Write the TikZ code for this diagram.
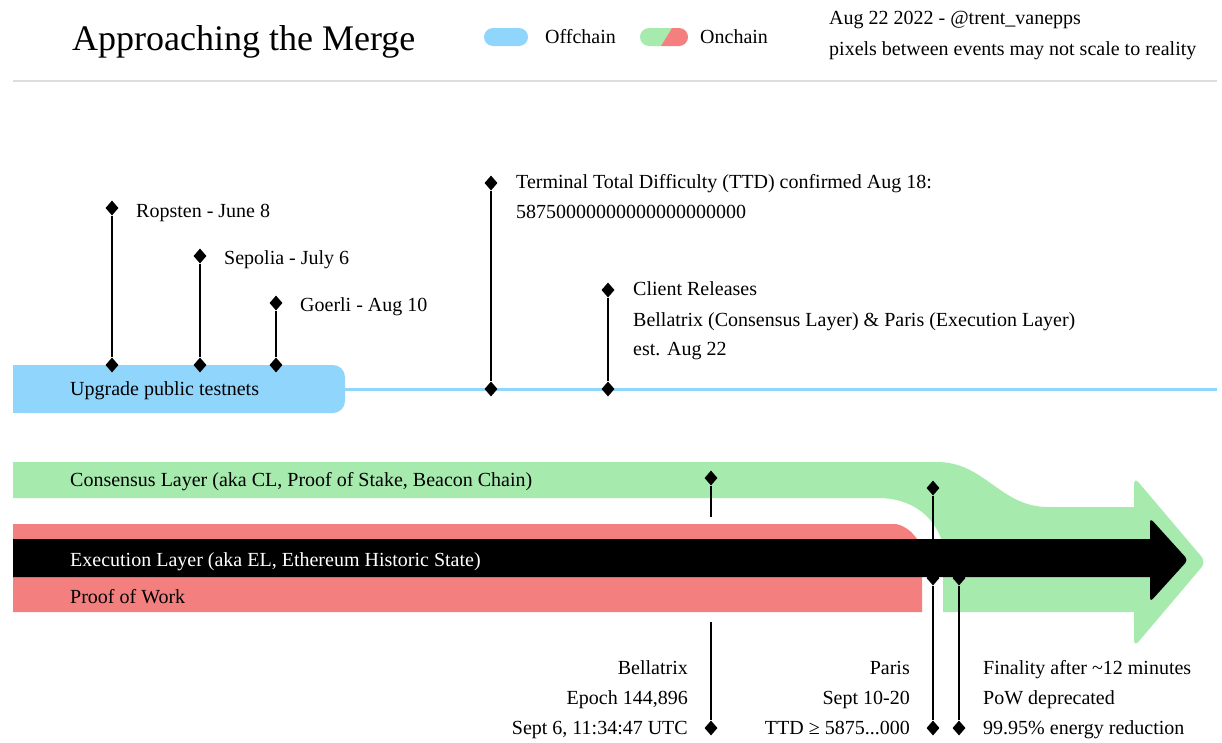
\documentclass[tikz,border=0pt]{standalone}
\usepackage{fontspec}
\setmainfont{Liberation Serif}
\usetikzlibrary{shapes.geometric}
\definecolor{offc}{HTML}{90D5FC}
\definecolor{onc}{HTML}{A6EAAE}
\definecolor{powc}{HTML}{F47F7F}
\definecolor{rulec}{HTML}{DDDDDD}
\begin{document}
\begin{tikzpicture}[x=1pt,y=-1pt,
  mk/.style={diamond, fill=black, inner sep=0pt, minimum width=13pt, minimum height=15pt},
  lbl/.style={inner sep=0pt, font=\fontsize{20}{30}\selectfont, anchor=base west},
  lblr/.style={lbl, anchor=base east},
  stem/.style={line width=2.8pt, black},
]
\useasboundingbox[fill=white] (0,0) rectangle (1222,742);

% header
\node[lbl, font=\fontsize{36}{40}\selectfont] (title) at (72,50) {Approaching the Merge};
\fill[offc, rounded corners=9pt] (484,28) rectangle (528,46);
\node[lbl] (offl) at (545,43) {Offchain};
\begin{scope}
\clip[rounded corners=9pt] (640,28) rectangle (688,46);
\fill[onc] (640,28) -- (672,28) -- (661,46) -- (640,46) -- cycle;
\fill[powc] (672,28) -- (688,28) -- (688,46) -- (661,46) -- cycle;
\end{scope}
\node[lbl] (onl) at (700,43) {Onchain};
\node[lbl] (auth) at (829,24) {Aug 22 2022 - @trent\_vanepps};
\node[lbl] (note) at (829,55) {pixels between events may not scale to reality};
\draw[rulec, line width=2pt] (13,81) -- (1217,81);

% offchain track
\fill[offc, rounded corners=12pt] (13,365) rectangle (345,413);
\fill[offc] (13,365) rectangle (40,413);
\draw[offc, line width=3pt] (344,389) -- (1217,389);
\node[lbl] (upg) at (70,395) {Upgrade public testnets};

% consensus layer (green) merging into arrow
\fill[onc] (13,462) -- (937,462) .. controls (985,462) and (1000,507) .. (1048,507)
  -- (1134,507) [rounded corners=7pt] -- (1134,477) -- (1206,562) -- (1134,647) [sharp corners] -- (1134,612)
  -- (943,612) -- (943,545) .. controls (937,520) and (915,498) .. (878,498) -- (13,498) -- cycle;
% proof of work (red)
\fill[powc] (13,524) -- (896,524) .. controls (906,526) and (916,534) .. (922,548)
  -- (922,612) -- (13,612) -- cycle;
% execution layer (black arrow)
\fill[black] (13,539) -- (1150,539) [rounded corners=4pt] -- (1150,518) -- (1188,560) -- (1150,602) [sharp corners] -- (1150,577) -- (13,577) -- cycle;

\node[lbl] (cl) at (70,486) {Consensus Layer (aka CL, Proof of Stake, Beacon Chain)};
\node[lbl, white] (el) at (70,566) {Execution Layer (aka EL, Ethereum Historic State)};
\node[lbl] (pow) at (70,603) {Proof of Work};

% testnet events
\node[mk] (rop1) at (112,208) {};
\node[mk] (rop2) at (112,365) {};
\node[mk] (sep1) at (200,256) {};
\node[mk] (sep2) at (200,365) {};
\node[mk] (goe1) at (276,303) {};
\node[mk] (goe2) at (276,365) {};
\draw[stem] (rop1) -- (rop2);
\draw[stem] (sep1) -- (sep2);
\draw[stem] (goe1) -- (goe2);
\node[lbl] (ropl) at (136,217) {Ropsten - June 8};
\node[lbl] (sepl) at (224,264) {Sepolia - July 6};
\node[lbl] (goel) at (300,311) {Goerli - Aug 10};

% TTD and client releases
\node[mk] (ttd1) at (491,183) {};
\node[mk] (ttd2) at (491,389) {};
\node[mk] (cli1) at (608,290) {};
\node[mk] (cli2) at (608,389) {};
\draw[stem] (ttd1) -- (ttd2);
\draw[stem] (cli1) -- (cli2);
\node[lbl] (ttdl1) at (516,188) {Terminal Total Difficulty (TTD) confirmed Aug 18:};
\node[lbl] (ttdl2) at (516,218) {58750000000000000000000};
\node[lbl] (clil1) at (633,295) {Client Releases};
\node[lbl] (clil2) at (633,326) {Bellatrix (Consensus Layer) \& Paris (Execution Layer)};
\node[lbl] (clil3) at (633,355) {est. Aug 22};

% Bellatrix
\node[mk] (bel1) at (711,478) {};
\coordinate (bel1e) at (711,517);
\coordinate (bel2s) at (711,622);
\node[mk] (bel2) at (711,728) {};
\draw[stem] (bel1) -- (bel1e);
\draw[stem] (bel2s) -- (bel2);
\node[lblr] (bell1) at (688,674) {Bellatrix};
\node[lblr] (bell2) at (688,704) {Epoch 144,896};
\node[lblr] (bell3) at (688,734) {Sept 6, 11:34:47 UTC};

% Paris
\node[mk] (par1) at (933,488) {};
\node[mk] (par2) at (933,578) {};
\node[mk] (par3) at (933,728) {};
\draw[stem] (par1) -- (par2) -- (par3);
\node[lblr] (parl1) at (910,674) {Paris};
\node[lblr] (parl2) at (910,704) {Sept 10-20};
\node[lblr] (parl3) at (910,734) {TTD ≥ 5875...000};

% Finality
\node[mk] (fin1) at (959,578) {};
\node[mk] (fin2) at (959,728) {};
\draw[stem] (fin1) -- (fin2);
\node[lbl] (finl1) at (983,674) {Finality after \textasciitilde12 minutes};
\node[lbl] (finl2) at (983,704) {PoW deprecated};
\node[lbl] (finl3) at (983,734) {99.95\% energy reduction};
\end{tikzpicture}
\end{document}
